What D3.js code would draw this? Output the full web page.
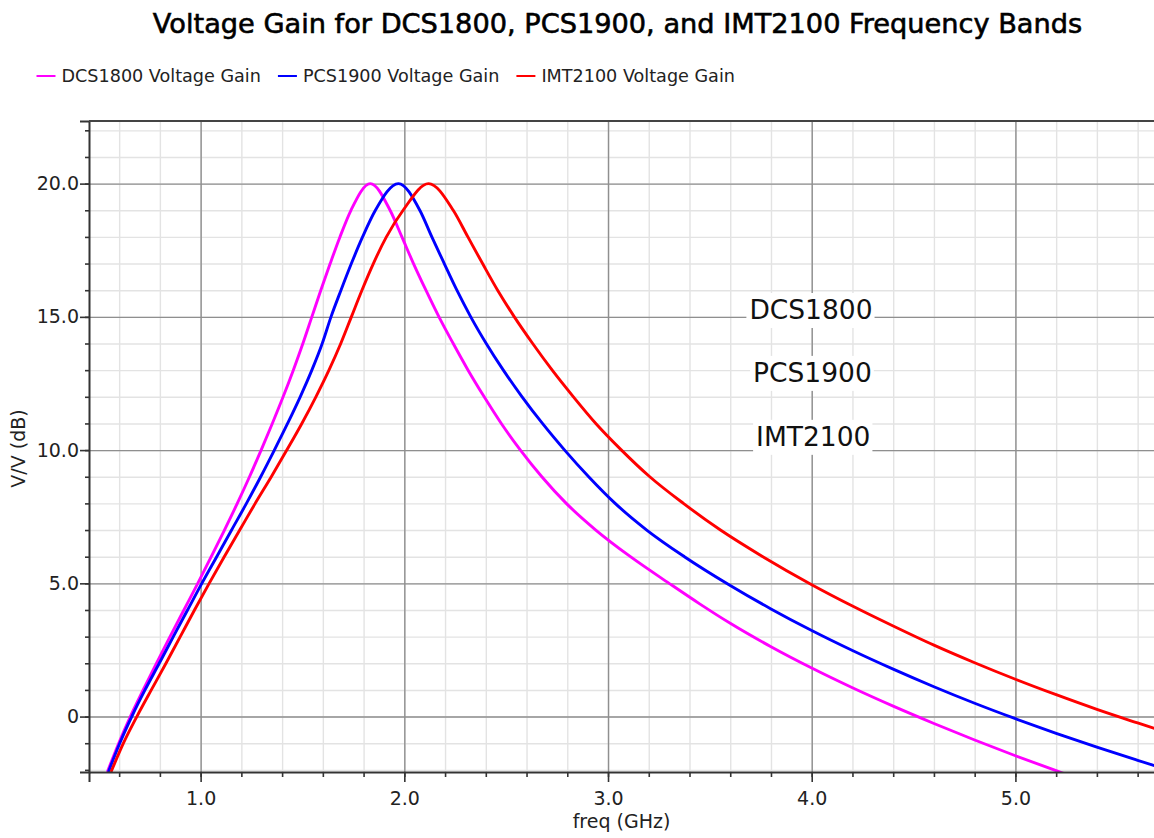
<!DOCTYPE html>
<html>
<head>
<meta charset="utf-8">
<script src="https://cdn.jsdelivr.net/npm/d3@7"></script>
<style>
  body { margin: 0; background: #fff; }
  svg { display: block; font-family: "DejaVu Sans", sans-serif; }
</style>
</head>
<body>
<svg id="chart" width="1154" height="838"></svg>
<script>
// values (freq in GHz, gain in dB)
var dcsFreq = [0.542, 0.598, 0.655, 0.718, 0.783, 0.850, 0.918, 0.986, 1.052, 1.117, 1.180, 1.240, 1.297, 1.352, 1.405, 1.455, 1.502, 1.546, 1.590, 1.636, 1.684, 1.738, 1.833, 1.930, 1.988, 2.045, 2.106, 2.170, 2.240, 2.313, 2.392, 2.476, 2.570, 2.675, 2.795, 2.940, 3.110, 3.300, 3.450, 3.600, 3.800, 4.000, 4.200, 4.400, 4.600, 4.800, 5.000, 5.200, 5.240];
var dcsGain = [-2.08, -1, 0, 1, 2, 3, 4, 5, 6, 7, 8, 9, 10, 11, 12, 13, 14, 15, 16, 17, 18, 19, 20, 19, 18, 17, 16, 15, 14, 13, 12, 11, 10, 9, 8, 7, 6, 5, 4.23, 3.50, 2.62, 1.82, 1.08, 0.39, -0.26, -0.88, -1.47, -2.03, -2.14];

var pcsFreq = [0.547, 0.603, 0.662, 0.727, 0.797, 0.866, 0.936, 1.006, 1.079, 1.152, 1.225, 1.295, 1.362, 1.427, 1.489, 1.546, 1.597, 1.640, 1.689, 1.740, 1.795, 1.858, 1.971, 2.076, 2.135, 2.196, 2.258, 2.326, 2.402, 2.486, 2.578, 2.678, 2.787, 2.905, 3.035, 3.190, 3.375, 3.600, 3.800, 4.000, 4.200, 4.400, 4.600, 4.800, 5.000, 5.200, 5.400, 5.600, 5.700];
var pcsGain = [-2.08, -1, 0, 1, 2, 3, 4, 5, 6, 7, 8, 9, 10, 11, 12, 13, 14, 15, 16, 17, 18, 19, 20, 19, 18, 17, 16, 15, 14, 13, 12, 11, 10, 9, 8, 7, 6, 4.92, 4.04, 3.23, 2.48, 1.78, 1.12, 0.50, -0.08, -0.63, -1.15, -1.64, -1.88];

var imtFreq = [0.560, 0.621, 0.687, 0.758, 0.830, 0.900, 0.970, 1.042, 1.116, 1.192, 1.268, 1.347, 1.423, 1.497, 1.566, 1.630, 1.688, 1.740, 1.792, 1.848, 1.912, 1.994, 2.119, 2.240, 2.312, 2.384, 2.458, 2.540, 2.630, 2.726, 2.830, 2.940, 3.066, 3.205, 3.370, 3.552, 3.760, 4.000, 4.200, 4.400, 4.600, 4.800, 5.000, 5.200, 5.400, 5.600, 5.700];
var imtGain = [-2.08, -1, 0, 1, 2, 3, 4, 5, 6, 7, 8, 9, 10, 11, 12, 13, 14, 15, 16, 17, 18, 19, 20, 19, 18, 17, 16, 15, 14, 13, 12, 11, 10, 9, 8, 7, 6, 4.95, 4.15, 3.40, 2.68, 2.02, 1.40, 0.82, 0.27, -0.24, -0.49];

var seriesNames = ["DCS1800 Voltage Gain", "PCS1900 Voltage Gain", "IMT2100 Voltage Gain"];
var xTickValues = [1, 2, 3, 4, 5];
var xTickLabels = ["1.0", "2.0", "3.0", "4.0", "5.0"];
var yTickValues = [0, 5, 10, 15, 20];
var yTickLabels = ["0", "5.0", "10.0", "15.0", "20.0"];
var bandLabels = ["DCS1800", "PCS1900", "IMT2100"];
var bandLabelFreq = [3.694, 3.712, 3.727];
var bandLabelGain = [14.92, 12.56, 10.16];

var colors = ["#ff00ff", "#0000ff", "#ff0000"];

var series = [
    {name: seriesNames[0], freq: dcsFreq, gain: dcsGain},
    {name: seriesNames[1], freq: pcsFreq, gain: pcsGain},
    {name: seriesNames[2], freq: imtFreq, gain: imtGain}
];

var plot = {left: 89, top: 121, right: 1158, bottom: 772};

var x = d3.scaleLinear().domain([0.452, 5.70]).range([plot.left, plot.right]);
var y = d3.scaleLinear().domain([-2.08, 22.35]).range([plot.bottom, plot.top]);

var svg = d3.select("#chart");

svg.append("defs").append("clipPath").attr("id", "clip")
    .append("rect")
    .attr("x", plot.left).attr("y", plot.top)
    .attr("width", plot.right - plot.left).attr("height", plot.bottom - plot.top);

// grid: minor every 0.2 GHz / 1 dB, major on the labelled ticks
var minorX = d3.range(3, 29).map(function(i) { return i / 5; });
var minorY = d3.range(-2, 23);

function gridX(values, cls) {
    svg.append("g")
        .attr("class", cls)
        .attr("transform", "translate(0," + plot.bottom + ")")
        .call(d3.axisBottom(x).tickValues(values).tickSize(-(plot.bottom - plot.top)).tickFormat(""))
        .call(function(g) { g.select(".domain").remove(); });
}
function gridY(values, cls) {
    svg.append("g")
        .attr("class", cls)
        .attr("transform", "translate(" + plot.left + ",0)")
        .call(d3.axisLeft(y).tickValues(values).tickSize(-(plot.right - plot.left)).tickFormat(""))
        .call(function(g) { g.select(".domain").remove(); });
}
gridX(minorX, "grid-minor");
gridY(minorY, "grid-minor");
gridX(xTickValues, "grid-major");
gridY(yTickValues, "grid-major");
svg.selectAll(".grid-minor line").attr("stroke", "#e3e3e3").attr("stroke-width", 1.4);
svg.selectAll(".grid-major line").attr("stroke", "#8f8f8f").attr("stroke-width", 1.4);

// curves
var line = d3.line()
    .x(function(d) { return x(d[0]); })
    .y(function(d) { return y(d[1]); })
    .curve(d3.curveMonotoneX);

svg.append("g").attr("clip-path", "url(#clip)")
    .selectAll("path")
    .data(series)
    .enter().append("path")
    .attr("fill", "none")
    .attr("stroke", function(d, i) { return colors[i]; })
    .attr("stroke-width", 2.9)
    .attr("stroke-linejoin", "round")
    .attr("d", function(d) { return line(d.freq.map(function(f, i) { return [f, d.gain[i]]; })); });

// band annotations on white boxes
var notes = svg.append("g").attr("class", "notes");
bandLabels.forEach(function(label, i) {
    var g = notes.append("g");
    var t = g.append("text")
        .attr("x", x(bandLabelFreq[i]))
        .attr("y", y(bandLabelGain[i]))
        .attr("font-size", 26.5)
        .attr("fill", "#111")
        .text(label);
    var bb = t.node().getBBox();
    g.insert("rect", "text")
        .attr("x", bb.x - 3).attr("y", bb.y - 1)
        .attr("width", bb.width + 5).attr("height", bb.height + 4)
        .attr("fill", "#fff");
});

// axes
var yAxis = svg.append("g")
    .attr("transform", "translate(" + plot.left + ",0)")
    .call(d3.axisLeft(y).tickValues(yTickValues).tickSize(9).tickPadding(1)
        .tickFormat(function(d, i) { return yTickLabels[i]; }));
svg.append("g")
    .attr("transform", "translate(" + plot.left + ",0)")
    .call(d3.axisLeft(y).tickValues(minorY).tickSize(4).tickFormat(""))
    .call(function(g) { g.select(".domain").remove(); });

var xAxis = svg.append("g")
    .attr("transform", "translate(0," + plot.bottom + ")")
    .call(d3.axisBottom(x).tickValues(xTickValues).tickSize(10).tickPadding(10)
        .tickFormat(function(d, i) { return xTickLabels[i]; }));
svg.append("g")
    .attr("transform", "translate(0," + plot.bottom + ")")
    .call(d3.axisBottom(x).tickValues(minorX).tickSize(5).tickFormat(""))
    .call(function(g) { g.select(".domain").remove(); });

svg.selectAll(".tick text")
    .attr("font-family", "DejaVu Sans, sans-serif")
    .attr("font-size", 19)
    .attr("fill", "#222");
svg.selectAll(".domain").attr("stroke", "#333").attr("stroke-width", 2);
svg.selectAll("g:not(.grid-minor):not(.grid-major) > .tick line")
    .attr("stroke", "#333").attr("stroke-width", 1.6);

// top frame line
svg.append("line")
    .attr("x1", plot.left).attr("x2", plot.right)
    .attr("y1", plot.top).attr("y2", plot.top)
    .attr("stroke", "#444").attr("stroke-width", 2);

// axis titles
svg.append("text")
    .attr("x", (plot.left + 1154) / 2)
    .attr("y", 828)
    .attr("text-anchor", "middle")
    .attr("font-size", 19)
    .attr("fill", "#222")
    .text("freq (GHz)");

svg.append("text")
    .attr("transform", "translate(25," + ((plot.top + plot.bottom) / 2 + 2) + ") rotate(-90)")
    .attr("text-anchor", "middle")
    .attr("font-size", 19)
    .attr("fill", "#222")
    .text("V/V (dB)");

// title
svg.append("text")
    .attr("x", 617.5)
    .attr("y", 33)
    .attr("text-anchor", "middle")
    .attr("font-size", 27.2)
    .attr("fill", "#000")
    .attr("stroke", "#000")
    .attr("stroke-width", 0.6)
    .text("Voltage Gain for DCS1800, PCS1900, and IMT2100 Frequency Bands");

// legend
var legend = svg.append("g").attr("class", "legend");
var lx = 36.5;
series.forEach(function(s, i) {
    legend.append("line")
        .attr("x1", lx).attr("x2", lx + 19)
        .attr("y1", 76).attr("y2", 76)
        .attr("stroke", colors[i]).attr("stroke-width", 2);
    var t = legend.append("text")
        .attr("x", lx + 25)
        .attr("y", 82)
        .attr("font-size", 17.6)
        .attr("fill", "#222")
        .text(s.name);
    lx += 25 + t.node().getComputedTextLength() + 17;
});
</script>
</body>
</html>
